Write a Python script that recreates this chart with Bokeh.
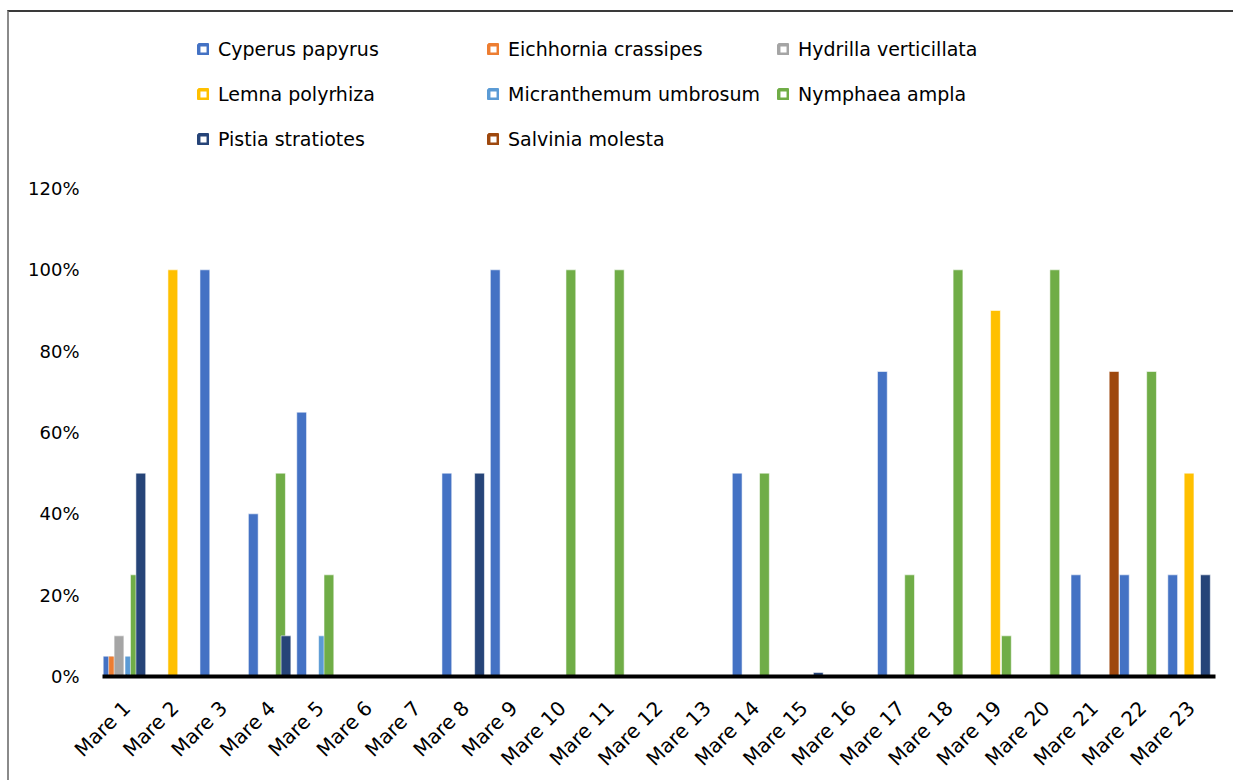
import math
from bokeh.plotting import figure
from bokeh.models import (ColumnDataSource, FactorRange, Range1d, FixedTicker,
                          NumeralTickFormatter, Legend, LegendItem)
from bokeh.transform import dodge
from bokeh.embed import file_html
from bokeh.resources import INLINE

categories = [f"Mare {i}" for i in range(1, 24)]

series_names = ["Cyperus papyrus", "Eichhornia crassipes", "Hydrilla verticillata",
                "Lemna polyrhiza", "Micranthemum umbrosum", "Nymphaea ampla",
                "Pistia stratiotes", "Salvinia molesta"]
series_colors = ["#4472C4", "#ED7D31", "#A5A5A5", "#FFC000",
                 "#5B9BD5", "#70AD47", "#264478", "#9E480E"]

cyperus      = [0.05, 0, 1.00, 0.40, 0.65, 0, 0, 0.50, 1.00, 0, 0, 0, 0, 0.50, 0, 0, 0.75, 0, 0, 0, 0.25, 0.25, 0.25]
eichhornia   = [0.05, 0, 0, 0, 0, 0, 0, 0, 0, 0, 0, 0, 0, 0, 0, 0, 0, 0, 0, 0, 0, 0, 0]
hydrilla     = [0.10, 0, 0, 0, 0, 0, 0, 0, 0, 0, 0, 0, 0, 0, 0, 0, 0, 0, 0, 0, 0, 0, 0]
lemna        = [0, 1.00, 0, 0, 0, 0, 0, 0, 0, 0, 0, 0, 0, 0, 0, 0, 0, 0, 0.90, 0, 0, 0, 0.50]
micranthemum = [0.05, 0, 0, 0, 0.10, 0, 0, 0, 0, 0, 0, 0, 0, 0, 0, 0, 0, 0, 0, 0, 0, 0, 0]
nymphaea     = [0.25, 0, 0, 0.50, 0.25, 0, 0, 0, 0, 1.00, 1.00, 0, 0, 0.50, 0, 0, 0.25, 1.00, 0.10, 1.00, 0, 0.75, 0]
pistia       = [0.50, 0, 0, 0.10, 0, 0, 0, 0.50, 0, 0, 0, 0, 0, 0, 0.01, 0, 0, 0, 0, 0, 0, 0, 0.25]
salvinia     = [0, 0, 0, 0, 0, 0, 0, 0, 0, 0, 0, 0, 0, 0, 0, 0, 0, 0, 0, 0, 0.75, 0, 0]

y_ticks = [0, 0.2, 0.4, 0.6, 0.8, 1.0, 1.2]

all_series = [cyperus, eichhornia, hydrilla, lemna, micranthemum, nymphaea, pistia, salvinia]

FONT = "DejaVu Sans"

# frame: x 102..1215, y 20..676 (page px); 1.2 (120%) at y=188
px_per_unit = 488 / 1.2
frame_h = 656
p = figure(x_range=FactorRange(factors=categories, range_padding=0),
           y_range=Range1d(0, frame_h / px_per_unit),
           frame_width=1113, frame_height=frame_h,
           min_border_left=93, min_border_right=18, min_border_top=8, min_border_bottom=104,
           output_backend="svg", toolbar_location=None)
p.x_range.factor_padding = 0
p.styles = {"margin-left": "7px", "margin-top": "10px",
            "border-top": "2px solid #3a3a3a", "border-left": "2px solid #8a8a8a"}

p.xgrid.visible = False
p.ygrid.visible = False
p.outline_line_color = None
p.background_fill_color = "white"
p.border_fill_color = "white"

items = []
cat_px = 1113 / 23
for i, (name, color, vals) in enumerate(zip(series_names, series_colors, all_series)):
    xs = [c for c, v in zip(categories, vals) if v > 0]
    ys = [v for v in vals if v > 0]
    src = ColumnDataSource(dict(x=xs, top=ys))
    off = (5.6 + 5.45 * i) / cat_px - 0.5
    p.vbar(x=dodge("x", off, range=p.x_range), top="top", bottom=0, width=9.8 / cat_px,
           source=src, fill_color=color, line_color="white", line_alpha=0.55, line_width=1)
    # legend-only swatch (placed far below the visible range, so never drawn in the plot)
    swatch_src = ColumnDataSource(dict(x=[categories[0]], top=[-5.0], bottom=[-5.0]))
    swatch = p.vbar(x="x", top="top", bottom="bottom", width=0.01, source=swatch_src,
                    fill_color="white", line_color=color, line_width=3.5)
    items.append(LegendItem(label=name, renderers=[swatch]))

legend = Legend(items=items, orientation="horizontal", ncols=3,
                location=(95, 515), spacing=0, padding=0, margin=0,
                glyph_width=12, glyph_height=12, label_standoff=9,
                label_width=269, label_height=45,
                label_text_font=FONT, label_text_font_size="19px",
                label_text_color="black",
                border_line_color=None, background_fill_alpha=0)
p.add_layout(legend, "center")

# Axes
xa = p.xaxis[0]
xa.axis_line_color = "black"
xa.axis_line_width = 4
xa.major_tick_line_color = None
xa.minor_tick_line_color = None
xa.major_label_orientation = math.pi / 4
xa.major_label_text_font = FONT
xa.major_label_text_font_size = "20px"
xa.major_label_text_color = "black"
xa.major_label_standoff = 22

ya = p.yaxis[0]
ya.ticker = FixedTicker(ticks=y_ticks)
ya.formatter = NumeralTickFormatter(format="0%")
ya.axis_line_color = None
ya.major_tick_line_color = None
ya.minor_tick_line_color = None
ya.major_tick_out = 0
ya.major_label_standoff = 23
ya.major_label_text_font = FONT
ya.major_label_text_font_size = "18px"
ya.major_label_text_color = "black"

open("out.html", "w").write(file_html(p, INLINE))
